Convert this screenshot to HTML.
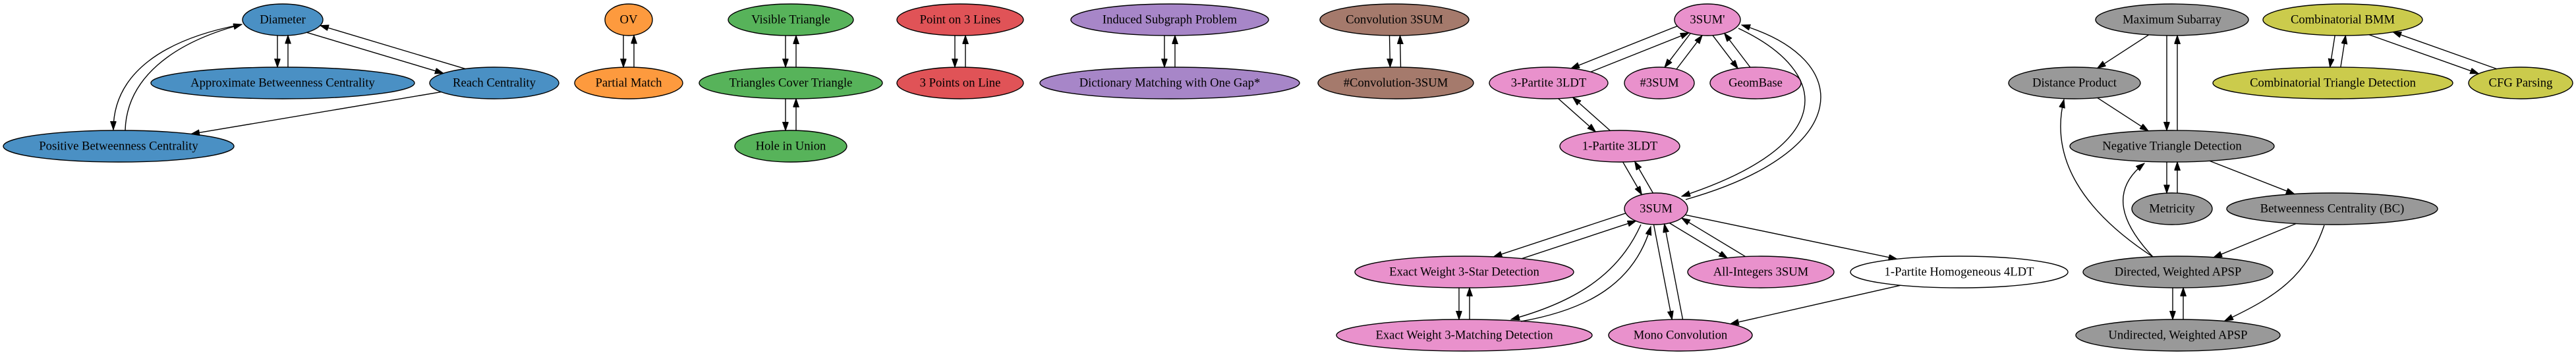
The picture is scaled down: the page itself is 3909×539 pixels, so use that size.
<!DOCTYPE html>
<html><head><meta charset="utf-8"><style>
html,body{margin:0;padding:0;background:#fff;}
svg{display:block;}
text{font-family:"Liberation Serif",serif;font-size:18.67px;text-anchor:middle;dominant-baseline:central;fill:#000;}
ellipse{stroke:#000;stroke-width:1.4;}
</style></head><body>
<svg id="g" width="3909" height="539" viewBox="0 0 3909 539" xmlns="http://www.w3.org/2000/svg">
<defs><marker id="ah" markerWidth="14" markerHeight="10" refX="13" refY="4.5" orient="auto" markerUnits="userSpaceOnUse"><path d="M0,0 L13,4.5 L0,9 z" fill="#000" stroke="#000" stroke-width="1"/></marker></defs>
<g id="nodes">
<ellipse cx="429" cy="30" rx="61" ry="24" fill="#4a90c4"/><text x="429" y="30">Diameter</text>
<ellipse cx="429" cy="126" rx="200" ry="24" fill="#4a90c4"/><text x="429" y="126">Approximate Betweenness Centrality</text>
<ellipse cx="750" cy="126" rx="98" ry="24" fill="#4a90c4"/><text x="750" y="126">Reach Centrality</text>
<ellipse cx="180" cy="222" rx="175" ry="24" fill="#4a90c4"/><text x="180" y="222">Positive Betweenness Centrality</text>
<ellipse cx="954" cy="30" rx="36" ry="24" fill="#fd9a3e"/><text x="954" y="30">OV</text>
<ellipse cx="954" cy="126" rx="82" ry="24" fill="#fd9a3e"/><text x="954" y="126">Partial Match</text>
<ellipse cx="1200" cy="30" rx="95" ry="24" fill="#57b35a"/><text x="1200" y="30">Visible Triangle</text>
<ellipse cx="1200" cy="126" rx="139" ry="24" fill="#57b35a"/><text x="1200" y="126">Triangles Cover Triangle</text>
<ellipse cx="1200" cy="222" rx="85" ry="24" fill="#57b35a"/><text x="1200" y="222">Hole in Union</text>
<ellipse cx="1457" cy="30" rx="96" ry="24" fill="#e05357"/><text x="1457" y="30">Point on 3 Lines</text>
<ellipse cx="1457" cy="126" rx="96" ry="24" fill="#e05357"/><text x="1457" y="126">3 Points on Line</text>
<ellipse cx="1775" cy="30" rx="150" ry="24" fill="#a786c8"/><text x="1775" y="30">Induced Subgraph Problem</text>
<ellipse cx="1775" cy="126" rx="197" ry="24" fill="#a786c8"/><text x="1775" y="126">Dictionary Matching with One Gap*</text>
<ellipse cx="2116" cy="30" rx="113" ry="24" fill="#a57a6c"/><text x="2116" y="30">Convolution 3SUM</text>
<ellipse cx="2118" cy="126" rx="118" ry="24" fill="#a57a6c"/><text x="2118" y="126">#Convolution-3SUM</text>
<ellipse cx="2591" cy="30" rx="50" ry="24" fill="#e991cc"/><text x="2591" y="30">3SUM'</text>
<ellipse cx="2350" cy="126" rx="90" ry="24" fill="#e991cc"/><text x="2350" y="126">3-Partite 3LDT</text>
<ellipse cx="2518" cy="126" rx="53" ry="24" fill="#e991cc"/><text x="2518" y="126">#3SUM</text>
<ellipse cx="2664" cy="126" rx="69" ry="24" fill="#e991cc"/><text x="2664" y="126">GeomBase</text>
<ellipse cx="2458" cy="222" rx="91" ry="24" fill="#e991cc"/><text x="2458" y="222">1-Partite 3LDT</text>
<ellipse cx="2513" cy="317" rx="48" ry="24" fill="#e991cc"/><text x="2513" y="317">3SUM</text>
<ellipse cx="2222" cy="413" rx="166" ry="24" fill="#e991cc"/><text x="2222" y="413">Exact Weight 3-Star Detection</text>
<ellipse cx="2672" cy="413" rx="111" ry="24" fill="#e991cc"/><text x="2672" y="413">All-Integers 3SUM</text>
<ellipse cx="2973" cy="413" rx="165" ry="24" fill="#ffffff"/><text x="2973" y="413">1-Partite Homogeneous 4LDT</text>
<ellipse cx="2222" cy="509" rx="194" ry="24" fill="#e991cc"/><text x="2222" y="509">Exact Weight 3-Matching Detection</text>
<ellipse cx="2550" cy="509" rx="109" ry="24" fill="#e991cc"/><text x="2550" y="509">Mono Convolution</text>
<ellipse cx="3296" cy="30" rx="116" ry="24" fill="#999999"/><text x="3296" y="30">Maximum Subarray</text>
<ellipse cx="3555" cy="30" rx="121" ry="24" fill="#cbcb4c"/><text x="3555" y="30">Combinatorial BMM</text>
<ellipse cx="3148" cy="126" rx="100" ry="24" fill="#999999"/><text x="3148" y="126">Distance Product</text>
<ellipse cx="3540" cy="126" rx="182" ry="24" fill="#cbcb4c"/><text x="3540" y="126">Combinatorial Triangle Detection</text>
<ellipse cx="3825" cy="126" rx="79" ry="24" fill="#cbcb4c"/><text x="3825" y="126">CFG Parsing</text>
<ellipse cx="3296" cy="222" rx="155" ry="24" fill="#999999"/><text x="3296" y="222">Negative Triangle Detection</text>
<ellipse cx="3296" cy="317" rx="61" ry="24" fill="#999999"/><text x="3296" y="317">Metricity</text>
<ellipse cx="3539" cy="317" rx="160" ry="24" fill="#999999"/><text x="3539" y="317">Betweenness Centrality (BC)</text>
<ellipse cx="3305" cy="413" rx="144" ry="24" fill="#999999"/><text x="3305" y="413">Directed, Weighted APSP</text>
<ellipse cx="3305" cy="509" rx="155" ry="24" fill="#999999"/><text x="3305" y="509">Undirected, Weighted APSP</text>
</g>
<g id="edges" fill="none" stroke="#000" stroke-width="1.4">
<path d="M362,38 C250,60 172,110 172,197" marker-end="url(#ah)"/>
<path d="M190,198 C192,120 260,65 367,37" marker-end="url(#ah)"/>
<path d="M2638,43 C2780,110 2790,220 2552,298" marker-end="url(#ah)"/>
<path d="M2558,303 C2815,230 2815,90 2643,38" marker-end="url(#ah)"/>
<path d="M2490,341 C2455,420 2385,460 2293,485" marker-end="url(#ah)"/>
<path d="M2308,488 C2410,470 2480,430 2505,344" marker-end="url(#ah)"/>
<path d="M3267,390 C3160,320 3110,240 3132,151" marker-end="url(#ah)"/>
<path d="M3267,390 C3220,340 3200,290 3254,248" marker-end="url(#ah)"/>
<path d="M3527,342 C3500,420 3455,450 3376,487" marker-end="url(#ah)"/>
</g>
</svg>
<script>
(function(){
var N={};
document.querySelectorAll('#nodes ellipse').forEach(function(e){
 var t=e.nextElementSibling.textContent;
 N[t]={x:+e.getAttribute('cx'),y:+e.getAttribute('cy'),rx:+e.getAttribute('rx'),ry:+e.getAttribute('ry')};
});
function inside(n,x,y){var a=(x-n.x)/n.rx,b=(y-n.y)/n.ry;return a*a+b*b<1;}
var g=document.getElementById('edges');
function E(a,b,off){
 var A=N[a],B=N[b];var dx=B.x-A.x,dy=B.y-A.y,L=Math.sqrt(dx*dx+dy*dy);
 var nx=-dy/L,ny=dx/L;off=off||0;
 var x0=A.x+nx*off,y0=A.y+ny*off,x1=B.x+nx*off,y1=B.y+ny*off;
 var ts=0,te=1,i,S=1000;
 for(i=0;i<=S;i++){var t=i/S;if(inside(A,x0+(x1-x0)*t,y0+(y1-y0)*t))ts=t;}
 for(i=S;i>=0;i--){var t=i/S;if(inside(B,x0+(x1-x0)*t,y0+(y1-y0)*t))te=t;}
 var p=document.createElementNS('http://www.w3.org/2000/svg','path');
 p.setAttribute('d','M'+(x0+(x1-x0)*ts)+','+(y0+(y1-y0)*ts)+' L'+(x0+(x1-x0)*te)+','+(y0+(y1-y0)*te));
 p.setAttribute('marker-end','url(#ah)');g.appendChild(p);
}
function B2(a,b){E(a,b,8);E(b,a,8);}
B2('Diameter','Approximate Betweenness Centrality');
B2('Diameter','Reach Centrality');
E('Reach Centrality','Positive Betweenness Centrality');
B2('OV','Partial Match');
B2('Visible Triangle','Triangles Cover Triangle');
B2('Triangles Cover Triangle','Hole in Union');
B2('Point on 3 Lines','3 Points on Line');
B2('Induced Subgraph Problem','Dictionary Matching with One Gap*');
B2('Convolution 3SUM','#Convolution-3SUM');
B2("3SUM'",'3-Partite 3LDT');
B2("3SUM'",'#3SUM');
B2("3SUM'",'GeomBase');
B2('3-Partite 3LDT','1-Partite 3LDT');
B2('1-Partite 3LDT','3SUM');
B2('3SUM','Exact Weight 3-Star Detection');
B2('3SUM','Mono Convolution');
B2('3SUM','All-Integers 3SUM');
E('3SUM','1-Partite Homogeneous 4LDT');
E('1-Partite Homogeneous 4LDT','Mono Convolution');
B2('Exact Weight 3-Star Detection','Exact Weight 3-Matching Detection');
E('Maximum Subarray','Distance Product');
B2('Maximum Subarray','Negative Triangle Detection');
E('Distance Product','Negative Triangle Detection');
B2('Negative Triangle Detection','Metricity');
E('Negative Triangle Detection','Betweenness Centrality (BC)');
E('Betweenness Centrality (BC)','Directed, Weighted APSP');
B2('Directed, Weighted APSP','Undirected, Weighted APSP');
B2('Combinatorial BMM','Combinatorial Triangle Detection');
B2('Combinatorial BMM','CFG Parsing');
})();
</script>
</body></html>
